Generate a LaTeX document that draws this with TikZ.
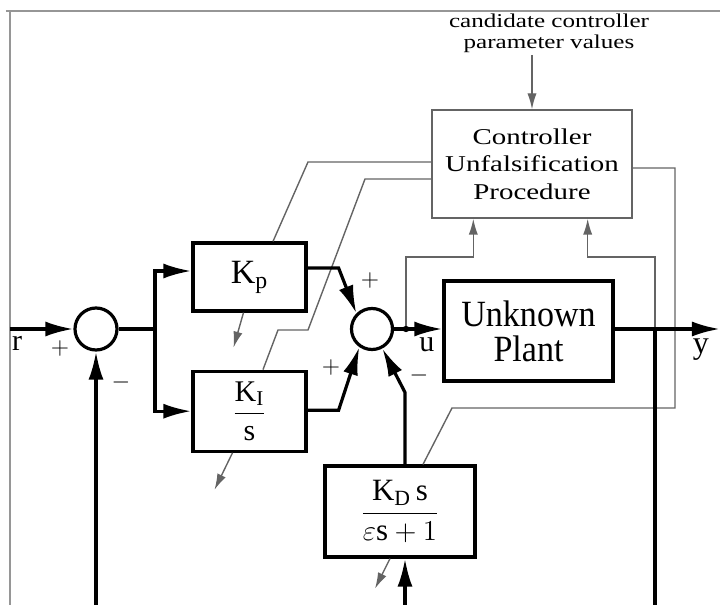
\documentclass[tikz,border=0pt]{standalone}
\usepackage{amsmath}
\usepackage{fontspec}
\setmainfont{Liberation Serif}
\newfontfamily\plantfont[FakeStretch=0.92]{Liberation Serif}
\newfontfamily\widefont[FakeStretch=1.28]{Liberation Serif}
\usetikzlibrary{arrows.meta,calc,positioning}
\definecolor{tuneColor}{RGB}{100,100,100}
\definecolor{frameColor}{RGB}{150,150,150}
\tikzset{block/.append style={draw, line width=1.6pt, fill=white, align=center, inner sep=0pt}}
\tikzset{summer/.append style={draw, circle, line width=1.6pt, minimum size=21pt, inner sep=0pt}}
\tikzset{wire/.append style={line width=1.6pt, -{Latex[length=14pt,width=7.5pt]}}}
\tikzset{tune/.append style={draw=tuneColor, line width=0.7pt, -{Latex[length=8pt,width=4.6pt]}}}
\tikzset{signlabel/.append style={font=\fontsize{13}{13}\selectfont, inner sep=0pt}}

\begin{document}
\begin{tikzpicture}[x=0.5pt, y=-0.5pt, node distance=4pt and 4pt]
    \useasboundingbox (0,0) rectangle (720,605);

    % Frame
    \draw[frameColor, line width=0.6pt] (6,11) -- (720,11);
    \draw[frameColor, line width=0.6pt] (10,11) -- (10,605);

    % Nodes
    \node (cup) [block, draw=tuneColor, line width=0.7pt, minimum width=100pt, minimum height=54pt, font=\widefont\fontsize{11.3}{13.8}\selectfont] at (532,164) {Controller\\Unfalsification\\Procedure};
    \node (cand) [align=center, inner sep=1pt, font=\widefont\fontsize{9.8}{10.5}\selectfont] at (549,33) {candidate controller\\parameter values};
    \node (sum1) [summer] at (96,329) {};
    \node (sum2) [summer, minimum size=20.5pt] at (372,329) {};
    \node (kp) [block, minimum width=56.5pt, minimum height=34pt, font=\fontsize{17}{19}\selectfont] at (249.5,277) {$\mathrm{K_p}$};
    \node (ki) [block, minimum width=56.5pt, minimum height=40pt, font=\fontsize{15}{17}\selectfont, below=28.5pt of kp] {$\dfrac{\mathrm{K_I}}{\mathrm{s}}$};
    \node (plant) [block, minimum width=84.5pt, minimum height=50pt, font=\plantfont\fontsize{18.5}{17.5}\selectfont] at (528.5,331) {Unknown\\Plant};
    \node (kd) [block, minimum width=75pt, minimum height=45.5pt, font=\fontsize{15.5}{17}\selectfont] at (400,511.5) {$\dfrac{\mathrm{K_D\,s}}{\varepsilon\mathrm{s}+1}$};

    \coordinate (rin) at (10,329);
    \coordinate (br) at (155,329);
    \coordinate (udot) at (406,329);
    \coordinate (ytap) at (655,329);
    \coordinate (yout) at (720,329);
    \coordinate (fb1) at (96,605);
    \coordinate (fb2) at (405,605);
    \coordinate (ybot) at (655,605);

    % Labels
    \node (rlab) [font=\fontsize{15}{15}\selectfont] at (17,343) {r};
    \node (ulab) [font=\fontsize{15}{15}\selectfont] at (427,345) {u};
    \node (ylab) [font=\fontsize{16}{16}\selectfont] at (701,350) {y};
    \node (plus1) [signlabel] at (60,349) {$+$};
    \node (minus1) [signlabel] at (121,383) {$-$};
    \node (plus2) [signlabel] at (370,280) {$+$};
    \node (plus3) [signlabel] at (331,367) {$+$};
    \node (minus2) [signlabel] at (419,375) {$-$};

    % Tuning connectors
    \begin{scope}[tune]
        \draw (cand.south -| cup.north) -- (cup.north);
        \draw (udot) -- ++(0,-72) -| ($(cup.south west)+(42,0)$);
        \draw (ytap) -- ++(0,-72) -| ($(cup.south east)+(-45,0)$);
        \draw[-] ($(cup.west)+(0,-2)$) -- (308,162) -- ($(kp.north)+(23.5,0)$);
        \draw ($(kp.south)+(-6,0)$) -- ++(-10,35);
        \draw[-] ($(cup.west)+(0,15)$) -- (365,179) -- (308,330) -- (278,330) -- ($(ki.north)+(13.5,0)$);
        \draw ($(ki.south)+(-17,0)$) -- ++(-18,37);
        \draw[-] ($(cup.east)+(0,4)$) -| (675,408) -- (452,408) -- ($(kd.north)+(23,0)$);
        \draw ($(kd.south)+(-10,0)$) -- ++(-15,30);
    \end{scope}

    % Connectors
    \begin{scope}[wire]
        \draw (rin) -- (sum1);
        \draw[-] (sum1) -- (br);
        \draw (br) |- ($(kp.west)+(0,-6)$);
        \draw (br) |- (ki.west);
        \draw ($(kp.east)+(0,-9)$) -- ++(31,0) -- (sum2.135);
        \draw ($(ki.east)+(0,-1)$) -- ++(31,0) -- (sum2.235);
        \draw ($(kd.north)+(5,0)$) -- ++(0,-72) -- (sum2.-62);
        \draw (sum2) -- (sum2 -| plant.west);
        \draw (plant.east |- sum2) -- (yout);
        \draw[-] (ytap) -- (ybot);
        \draw (fb1) -- (sum1);
        \draw (fb2) -- (kd.south -| fb2);
    \end{scope}
    \fill (udot) circle (1.6pt);

\end{tikzpicture}
\end{document}
